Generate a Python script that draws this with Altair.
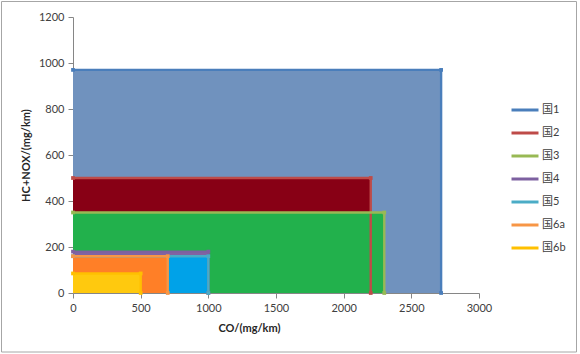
import altair as alt
import pandas as pd

names = ["国1", "国2", "国3", "国4", "国5", "国6a", "国6b"]
co_limit = [2720, 2200, 2300, 1000, 1000, 700, 500]
hcnox_limit = [970, 500, 350, 180, 160, 160, 85]
fill_colors = ["#7092BE", "#880015", "#22B14C", "#8064A2", "#00A2E8", "#FF7F27", "#FFC90E"]
line_colors = ["#4A7EBB", "#BE4B48", "#98B954", "#7D60A0", "#4BACC6", "#F79646", "#FFC000"]
x_ticks = [0, 500, 1000, 1500, 2000, 2500, 3000]
y_ticks = [0, 200, 400, 600, 800, 1000, 1200]

rect_df = pd.DataFrame({
    "name": names, "co": co_limit, "hc": hcnox_limit,
    "fill": fill_colors, "zero": [0] * len(names), "ord": list(range(len(names))),
})

rows = []
for i, (n, c, h) in enumerate(zip(names, co_limit, hcnox_limit)):
    rows.append({"name": n, "x": 0, "y": h, "step": 0, "ord": i})
    rows.append({"name": n, "x": c, "y": h, "step": 1, "ord": i})
    rows.append({"name": n, "x": c, "y": 0, "step": 2, "ord": i})
line_df = pd.DataFrame(rows)

FONT = "Lato, Noto Sans CJK SC, sans-serif"
xscale = alt.Scale(domain=[0, 3000], nice=False)
yscale = alt.Scale(domain=[0, 1200], nice=False)

xaxis = alt.Axis(values=x_ticks, format="d", labelFlush=False, title="CO/(mg/km)", grid=False,
                 titleX=176, titleY=35, titleBaseline="middle", titleAlign="center")
yaxis = alt.Axis(values=y_ticks, format="d", labelFlush=False, title="HC+NOX/(mg/km)", grid=False,
                 titleX=-47, titleY=138, titleBaseline="middle", titleAlign="center")

rects = alt.Chart(rect_df).mark_rect(strokeWidth=0).encode(
    x=alt.X("zero:Q", scale=xscale, axis=xaxis),
    x2="co:Q",
    y=alt.Y("zero:Q", scale=yscale, axis=yaxis),
    y2="hc:Q",
    fill=alt.Fill("fill:N", scale=None),
    order=alt.Order("ord:Q"),
)

lines = alt.Chart(line_df).mark_line(
    strokeWidth=2.4,
    point=alt.OverlayMarkDef(size=14, filled=True, shape="square"),
).encode(
    x=alt.X("x:Q", scale=xscale),
    y=alt.Y("y:Q", scale=yscale),
    color=alt.Color("name:N", scale=alt.Scale(domain=names, range=line_colors),
                    legend=alt.Legend(title=None, orient="none", legendX=437, legendY=78,
                                      symbolType="stroke", symbolSize=729,
                                      symbolStrokeWidth=3, rowPadding=2,
                                      labelFontSize=11, labelOffset=2,
                                      labelColor="#404040", labelFont=FONT)),
    order=alt.Order("step:Q"),
    detail="ord:N",
)

frame = alt.Chart(pd.DataFrame({"a": [0]})).mark_rect(
    fill=None, stroke="#A6A6A6", strokeWidth=1, clip=False
).encode(
    x=alt.value(-71.5), x2=alt.value(503.5), y=alt.value(-15.5), y2=alt.value(335)
)

chart = alt.layer(rects, lines, frame).properties(
    width=406, height=276,
    autosize=alt.AutoSizeParams(type="none"),
    padding={"left": 73, "top": 17, "right": 101, "bottom": 61},
    background="white",
).configure_view(stroke=None).configure_axis(
    domainColor="#868686", tickColor="#868686", tickSize=5,
    labelColor="#404040", labelFont=FONT, labelFontSize=11, labelPadding=4,
    titleColor="#262626", titleFont=FONT, titleFontSize=11, titleFontWeight="bold",
)

chart.save("out.html", embed_options={"renderer": "svg", "actions": False})
